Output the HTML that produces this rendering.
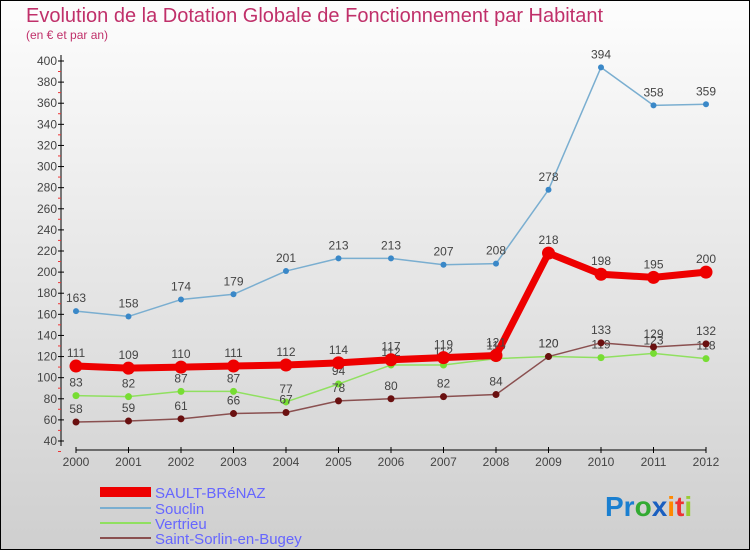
<!DOCTYPE html>
<html><head><meta charset="utf-8"><style>
body{margin:0}
#c{position:relative;width:750px;height:550px;box-sizing:border-box;border:1px solid #000;background:linear-gradient(#fdfdfd,#cfcfcf);font-family:"Liberation Sans",sans-serif;overflow:hidden}
</style></head><body>
<div id="c">
<svg width="750" height="550" style="position:absolute;left:-1px;top:-1px" id="s">
<text x="26" y="22" font-size="20" fill="#c0306a">Evolution de la Dotation Globale de Fonctionnement par Habitant</text>
<text x="26" y="39" font-size="12" fill="#c0306a">(en € et par an)</text>
<g id="ax"></g><g id="ser"></g>
<g>
<rect x="100" y="487" width="51" height="10" fill="#e00"/>
<text x="155" y="498" font-size="15" fill="#66f">SAULT-BRéNAZ</text>
<line x1="100" y1="508" x2="151" y2="508" stroke="#7aaed0" stroke-width="2"/>
<text x="155" y="514" font-size="15" fill="#66f">Souclin</text>
<line x1="100" y1="523" x2="151" y2="523" stroke="#90e060" stroke-width="2"/>
<text x="155" y="529" font-size="15" fill="#66f">Vertrieu</text>
<line x1="100" y1="538" x2="151" y2="538" stroke="#8a5050" stroke-width="2"/>
<text x="155" y="544" font-size="15" fill="#66f">Saint-Sorlin-en-Bugey</text>
</g>
<text x="605" y="516" font-size="28" font-weight="bold"><tspan fill="#1a7fd0">Pr</tspan><tspan fill="#3a3">o</tspan><tspan fill="#1a5fc0">x</tspan><tspan fill="#f80">i</tspan><tspan fill="#e33">t</tspan><tspan fill="#9c3">i</tspan></text>
</svg>
</div>
<script>
const years=[2000,2001,2002,2003,2004,2005,2006,2007,2008,2009,2010,2011,2012];
const sault=[111,109,110,111,112,114,117,119,121,218,198,195,200];
const souclin=[163,158,174,179,201,213,213,207,208,278,394,358,359];
const vertrieu=[83,82,87,87,77,94,112,112,118,120,119,123,118];
const sorlin=[58,59,61,66,67,78,80,82,84,120,133,129,132];
const yTicks=[40,60,80,100,120,140,160,180,200,220,240,260,280,300,320,340,360,380,400];
const NS="http://www.w3.org/2000/svg";
const X=i=>76+i*52.5, Y=v=>441-(v-40)*(380/360);
function mk(t,a,p){const e=document.createElementNS(NS,t);for(const k in a)e.setAttribute(k,a[k]);p.appendChild(e);return e;}
const ax=document.getElementById('ax');
let l=mk('line',{x1:61,y1:55,x2:61,y2:446,stroke:'#000'},ax);


l=mk('line',{x1:76,y1:450,x2:706,y2:450,stroke:'#000'},ax);


yTicks.forEach(v=>{const y=Y(v);
mk('line',{x1:58,y1:y,x2:64,y2:y,stroke:'#000'},ax);
mk('line',{x1:58,y1:y+10.5,x2:61,y2:y+10.5,stroke:'#e33'},ax);
const t=mk('text',{x:57,y:y+4,'font-size':12,fill:'#444','text-anchor':'end'},ax);t.textContent=v;

});
years.forEach((yr,i)=>{mk('line',{x1:X(i),y1:447,x2:X(i),y2:453,stroke:'#000'},ax);
const t=mk('text',{x:X(i),y:466,'font-size':12,fill:'#444','text-anchor':'middle'},ax);t.textContent=yr;

});
const ser=document.getElementById('ser');
function draw(d,col,w,r,dot,name){const g=mk('g',{},ser);


mk('polyline',{points:d.map((v,i)=>X(i)+','+Y(v)).join(' '),fill:'none',stroke:col,'stroke-width':w,'stroke-linejoin':'round'},g);
d.forEach((v,i)=>{const c=mk('circle',{cx:X(i),cy:Y(v),r:r,fill:dot},g);


const t=mk('text',{x:X(i),y:Y(v)-9,'font-size':12,fill:'#444','text-anchor':'middle'},g);t.textContent=v;});}
draw(souclin,'#7aaed0',1.5,3,'#3a88c8','souclin');
draw(vertrieu,'#90e060',1.5,3.5,'#77dd33','vertrieu');
draw(sorlin,'#8a5050',1.5,3.5,'#6a1010','saint-sorlin');
draw(sault,'#ee0000',7,6.5,'#ee0000','sault');
</script>
</body></html>
